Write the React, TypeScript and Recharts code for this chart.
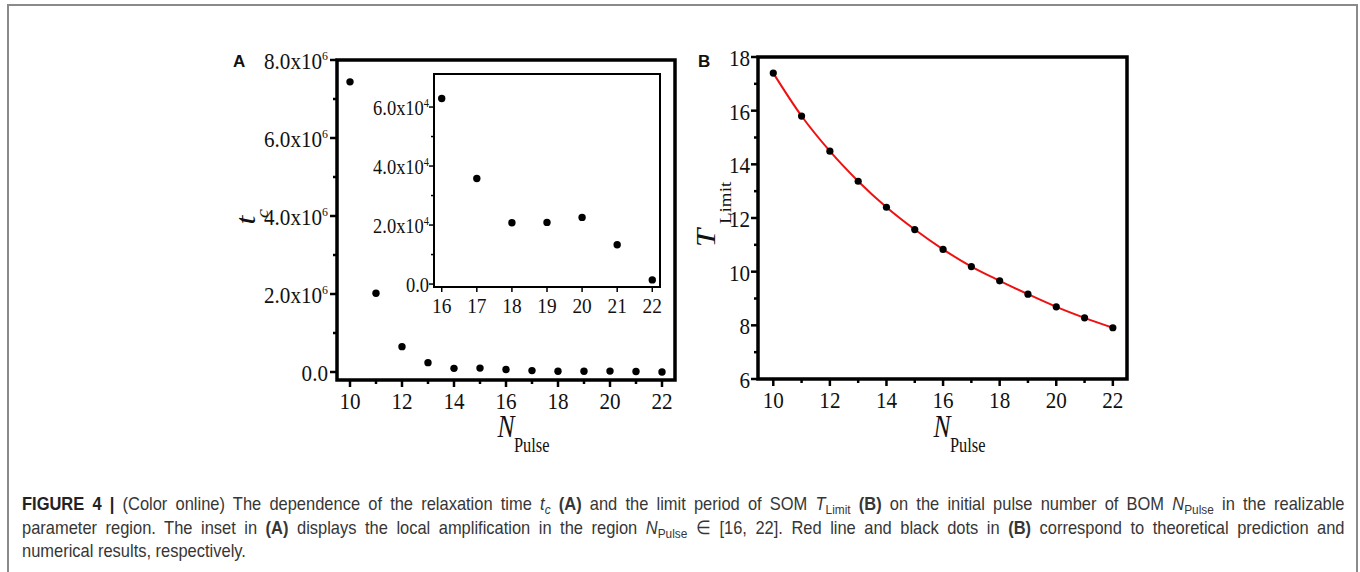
import React from "react";
import { ScatterChart, ComposedChart, Scatter, Line, XAxis, YAxis, ReferenceArea } from "recharts";

// N_Pulse, shared by both panels
const pulseNumbers = [10, 11, 12, 13, 14, 15, 16, 17, 18, 19, 20, 21, 22];
// relaxation time t_c (panel A), small values
const relaxTimes = [7.44e6, 2.02e6, 6.5e5, 2.4e5, 9.4e4, 1.0e5, 6.29e4, 3.58e4, 2.08e4, 2.09e4, 2.26e4, 1.33e4, 1.4e3];
// the inset zooms into N_Pulse >= 16
const insetFrom = 16;
// limit period T_Limit (panel B)
const limitPeriods = [17.4, 15.8, 14.49, 13.37, 12.4, 11.57, 10.83, 10.19, 9.66, 9.16, 8.69, 8.28, 7.91];

// ticks (all marks) and labelled ticks
const pulseTicks = [10, 11, 12, 13, 14, 15, 16, 17, 18, 19, 20, 21, 22];
const pulseLabels = [10, 12, 14, 16, 18, 20, 22];
const tcTicks = [0, 1e6, 2e6, 3e6, 4e6, 5e6, 6e6, 7e6, 8e6];
const tcLabels = [0, 2e6, 4e6, 6e6, 8e6];
const insetXTicks = [16, 17, 18, 19, 20, 21, 22];
const insetYTicks = [0, 1e4, 2e4, 3e4, 4e4, 5e4, 6e4];
const insetYLabels = [0, 2e4, 4e4, 6e4];
const limitTicks = [6, 7, 8, 9, 10, 11, 12, 13, 14, 15, 16, 17, 18];
const limitLabels = [6, 8, 10, 12, 14, 16, 18];

const SERIF = "'Liberation Serif', 'Times New Roman', serif";
const SANS = "'Liberation Sans', Arial, sans-serif";

const rowsA = pulseNumbers.map((n, i) => ({ n, tc: relaxTimes[i] }));
const rowsInset = rowsA.filter((r) => r.n >= insetFrom);
const rowsB = pulseNumbers.map((n, i) => ({ n, t: limitPeriods[i] }));

type TickOpts = {
  side: "left" | "bottom";
  labels: number[];
  major: number;
  minor: number;
  width: number;
  size: number;
  gap: number;
  sci?: boolean;
};

function sciLabel(v: number, size: number) {
  if (v === 0) return "0.0";
  const e = Math.floor(Math.log10(v) + 1e-9);
  const m = (v / Math.pow(10, e)).toFixed(1);
  return [
    <tspan key="m">{m + "x10"}</tspan>,
    <tspan key="e" dy={-size * 0.38} fontSize={size * 0.56}>
      {e}
    </tspan>,
  ];
}

function axisTick(o: TickOpts) {
  return (props: any) => {
    const { x, y, payload } = props;
    const v = payload.value;
    const isMajor = o.labels.includes(v);
    const len = isMajor ? o.major : o.minor;
    if (o.side === "left") {
      return (
        <g>
          <line x1={x} x2={x - len} y1={y} y2={y} stroke="#000" strokeWidth={o.width} />
          {isMajor && (
            <text
              transform={`translate(${x - o.gap},${y + o.size * 0.37}) scale(0.88,1)`}
              textAnchor="end"
              fontFamily={SERIF}
              fontSize={o.size}
              fill="#111"
            >
              {o.sci ? sciLabel(v, o.size) : v}
            </text>
          )}
        </g>
      );
    }
    return (
      <g>
        <line x1={x} x2={x} y1={y} y2={y + len} stroke="#000" strokeWidth={o.width} />
        {isMajor && (
          <text
            transform={`translate(${x},${y + o.gap}) scale(0.88,1)`}
            textAnchor="middle"
            fontFamily={SERIF}
            fontSize={o.size}
            fill="#111"
          >
            {v}
          </text>
        )}
      </g>
    );
  };
}

const dot = (r: number) => (p: any) => <circle cx={p.cx} cy={p.cy} r={r} fill="#000" />;

// N_Pulse axis title, cx = plot centre in chart coords
const pulseTitle = (cx: number) => () => (
  <g fontFamily={SERIF} fill="#111">
    <text transform={`translate(${cx},397) scale(0.8,1)`} textAnchor="middle" fontSize={32} fontStyle="italic">
      N
    </text>
    <text transform={`translate(${cx + 8},412) scale(0.82,1)`} fontSize={20}>
      Pulse
    </text>
  </g>
);

const tcTitle = () => (
  <g fontFamily={SERIF} fill="#111" fontStyle="italic">
    <text transform="translate(55,180) rotate(-90) scale(1,0.85)" textAnchor="middle" fontSize={32}>
      t
    </text>
    <text transform="translate(68,178) rotate(-90) scale(1,0.85)" fontSize={20}>
      c
    </text>
  </g>
);

const limitTitle = () => (
  <g fontFamily={SERIF} fill="#111">
    <text transform="translate(35,198) rotate(-90) scale(1,0.85)" textAnchor="middle" fontSize={33} fontStyle="italic">
      T
    </text>
    <text transform="translate(51,184) rotate(-90) scale(1,0.88)" fontSize={19}>
      Limit
    </text>
  </g>
);

function PanelA() {
  const xDom: [number, number] = [9.5, 22.5];
  const yDom: [number, number] = [-2.05e5, 8e6];
  return (
    <div style={{ position: "absolute", left: 200, top: 40 }}>
      <ScatterChart width={490} height={430} margin={{ top: 20, right: 15, bottom: 0, left: 37 }}>
        <XAxis
          type="number"
          dataKey="n"
          domain={xDom}
          allowDataOverflow
          ticks={pulseTicks}
          interval={0}
          tickSize={0}
          tickMargin={0}
          tickLine={false}
          axisLine={false}
          height={90}
          tick={axisTick({ side: "bottom", labels: pulseLabels, major: 7, minor: 4, width: 2.5, size: 24, gap: 29 })}
          label={{ content: pulseTitle(306) }}
        />
        <YAxis
          type="number"
          dataKey="tc"
          domain={yDom}
          allowDataOverflow
          ticks={tcTicks}
          interval={0}
          tickSize={0}
          tickMargin={0}
          tickLine={false}
          axisLine={false}
          width={100}
          tick={axisTick({ side: "left", labels: tcLabels, major: 7, minor: 4, width: 2.5, size: 24, gap: 9, sci: true })}
          label={{ content: tcTitle }}
        />
        <ReferenceArea x1={xDom[0]} x2={xDom[1]} y1={yDom[0]} y2={yDom[1]} fill="none" stroke="#000" strokeWidth={3.5} ifOverflow="visible" />
        <Scatter data={rowsA} isAnimationActive={false} shape={dot(3.7)} />
      </ScatterChart>
    </div>
  );
}

function Inset() {
  const xDom: [number, number] = [15.78, 22.22];
  const yDom: [number, number] = [-1000, 71200];
  return (
    <div style={{ position: "absolute", left: 360, top: 64 }}>
      <ScatterChart width={310} height={260} margin={{ top: 10, right: 10, bottom: 0, left: 14 }}>
        <XAxis
          type="number"
          dataKey="n"
          domain={xDom}
          allowDataOverflow
          ticks={insetXTicks}
          interval={0}
          tickSize={0}
          tickMargin={0}
          tickLine={false}
          axisLine={false}
          height={37}
          tick={axisTick({ side: "bottom", labels: insetXTicks, major: 5, minor: 3, width: 1.5, size: 22, gap: 26 })}
        />
        <YAxis
          type="number"
          dataKey="tc"
          domain={yDom}
          allowDataOverflow
          ticks={insetYTicks}
          interval={0}
          tickSize={0}
          tickMargin={0}
          tickLine={false}
          axisLine={false}
          width={60}
          tick={axisTick({ side: "left", labels: insetYLabels, major: 5, minor: 3, width: 1.5, size: 21, gap: 5, sci: true })}
        />
        <ReferenceArea x1={xDom[0]} x2={xDom[1]} y1={yDom[0]} y2={yDom[1]} fill="none" stroke="#000" strokeWidth={2} ifOverflow="visible" />
        <Scatter data={rowsInset} isAnimationActive={false} shape={dot(3.7)} />
      </ScatterChart>
    </div>
  );
}

function PanelB() {
  const xDom: [number, number] = [9.46, 22.5];
  const yDom: [number, number] = [6, 18];
  return (
    <div style={{ position: "absolute", left: 680, top: 40 }}>
      <ComposedChart width={460} height={430} data={rowsB} margin={{ top: 17, right: 13, bottom: 0, left: 18 }}>
        <XAxis
          type="number"
          dataKey="n"
          domain={xDom}
          allowDataOverflow
          ticks={pulseTicks}
          interval={0}
          tickSize={0}
          tickMargin={0}
          tickLine={false}
          axisLine={false}
          height={91}
          tick={axisTick({ side: "bottom", labels: pulseLabels, major: 7, minor: 4, width: 2.5, size: 24, gap: 29 })}
          label={{ content: pulseTitle(262) }}
        />
        <YAxis
          type="number"
          domain={yDom}
          allowDataOverflow
          ticks={limitTicks}
          interval={0}
          tickSize={0}
          tickMargin={0}
          tickLine={false}
          axisLine={false}
          width={60}
          tick={axisTick({ side: "left", labels: limitLabels, major: 7, minor: 4, width: 2.5, size: 24, gap: 8 })}
          label={{ content: limitTitle }}
        />
        <ReferenceArea x1={xDom[0]} x2={xDom[1]} y1={yDom[0]} y2={yDom[1]} fill="none" stroke="#000" strokeWidth={3.5} ifOverflow="visible" />
        <Scatter dataKey="t" isAnimationActive={false} shape={dot(3.6)} />
        <Line dataKey="t" type="monotone" stroke="#ee1111" strokeWidth={2} dot={false} isAnimationActive={false} />
      </ComposedChart>
    </div>
  );
}

const sub: React.CSSProperties = { fontSize: "0.72em", verticalAlign: "-0.3em", lineHeight: 0 };
const lineStyle: React.CSSProperties = { whiteSpace: "nowrap", textAlign: "justify", textAlignLast: "justify" as any };

function Caption() {
  return (
    <div
      style={{
        position: "absolute",
        left: 22,
        top: 492,
        width: 1486,
        transform: "scale(0.89,1)",
        transformOrigin: "left top",
        fontFamily: SANS,
        fontSize: 18.5,
        lineHeight: "23.5px",
        color: "#363636",
      }}
    >
      <div style={lineStyle}>
        <b style={{ color: "#222" }}>FIGURE 4 |</b> (Color online) The dependence of the relaxation time <i>t</i>
        <i style={sub}>c</i> <b>(A)</b> and the limit period of SOM <i>T</i>
        <span style={sub}>Limit</span> <b>(B)</b> on the initial pulse number of BOM <i>N</i>
        <span style={sub}>Pulse</span> in the realizable
      </div>
      <div style={lineStyle}>
        parameter region. The inset in <b>(A)</b> displays the local amplification in the region <i>N</i>
        <span style={sub}>Pulse</span> ∈ [16, 22]. Red line and black dots in <b>(B)</b> correspond to theoretical prediction and
      </div>
      <div style={{ whiteSpace: "nowrap" }}>numerical results, respectively.</div>
    </div>
  );
}

const panelLetter = (left: number, text: string) => (
  <div
    style={{
      position: "absolute",
      left,
      top: 53,
      fontFamily: SANS,
      fontWeight: 700,
      fontSize: 17,
      lineHeight: "17px",
      color: "#111",
    }}
  >
    {text}
  </div>
);

export default function App() {
  return (
    <div style={{ position: "absolute", left: 0, top: 0, width: 1360, height: 572, background: "#fff", overflow: "hidden" }}>
      <div
        style={{
          position: "absolute",
          left: 7,
          top: 4,
          width: 1351,
          height: 640,
          boxSizing: "border-box",
          borderTop: "2px solid #8a8a8a",
          borderLeft: "2px solid #8a8a8a",
          borderRight: "2px solid #8a8a8a",
        }}
      />
      {panelLetter(233, "A")}
      {panelLetter(698, "B")}
      <PanelA />
      <Inset />
      <PanelB />
      <Caption />
    </div>
  );
}
